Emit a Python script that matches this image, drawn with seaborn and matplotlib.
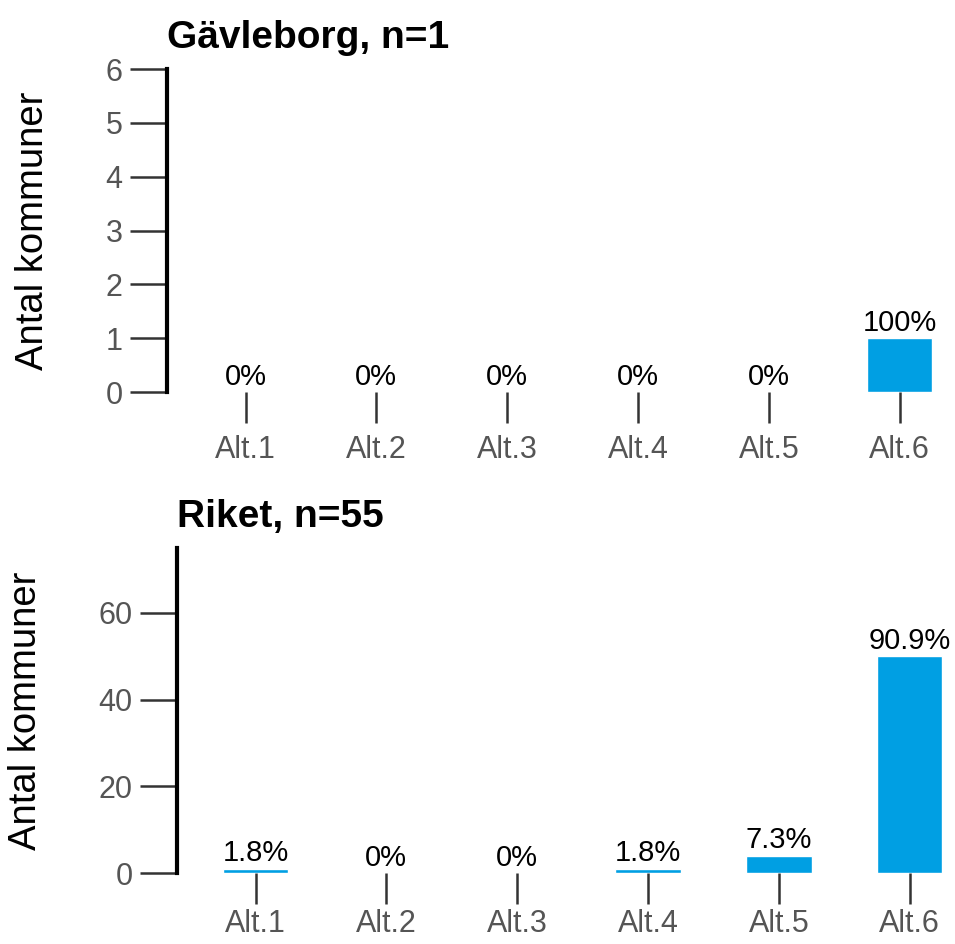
import matplotlib
matplotlib.use('Agg')
import matplotlib.pyplot as plt
import seaborn as sns

# data
categories = ['Alt.1', 'Alt.2', 'Alt.3', 'Alt.4', 'Alt.5', 'Alt.6']
gavle_counts = [0, 0, 0, 0, 0, 1]
riket_counts = [1, 0, 0, 1, 4, 50]
gavle_n = 1
riket_n = 55
gavle_yticks = [0, 1, 2, 3, 4, 5, 6]
riket_yticks = [0, 20, 40, 60]

sns.set_style('white')
plt.rcParams['font.family'] = ['Liberation Sans', 'DejaVu Sans']

bar_color = '#009FE3'
tick_grey = '#555555'

fig = plt.figure(figsize=(9.55, 9.44), dpi=100)
ax1 = fig.add_axes([167 / 955, 0.5847, 785 / 955, 0.3422])
ax2 = fig.add_axes([177 / 955, 0.0752, 785 / 955, 0.3443])


def draw(ax, counts, n, title, yticks, ylim, xpad):
    sns.barplot(x=categories, y=counts, color=bar_color, saturation=1,
                width=0.5, ax=ax)
    labels = [f"{round(c / n * 100, 1):g}%" for c in counts]
    ax.bar_label(ax.containers[0], labels=labels, padding=1, fontsize=21,
                 color='black')
    ax.set_xlim(-0.6, 5.4)
    ax.set_ylim(*ylim)
    ax.set_yticks(yticks)
    for s in ['top', 'right', 'bottom']:
        ax.spines[s].set_visible(False)
    ax.spines['left'].set_linewidth(3)
    ax.spines['left'].set_color('black')
    ax.tick_params(axis='y', length=27, width=1.8, color='#333333',
                   labelsize=22, labelcolor=tick_grey, pad=5, left=True)
    ax.tick_params(axis='x', length=22, width=1.8, color='#333333',
                   labelsize=22, labelcolor=tick_grey, pad=xpad, bottom=True)
    ax.set_ylabel('Antal kommuner', fontsize=27.5, labelpad=39, color='black')
    ax.set_xlabel('')
    ax.set_title(title, loc='left', fontsize=28, fontweight='bold', pad=15,
                 color='black')


draw(ax1, gavle_counts, gavle_n, f'Gävleborg, n={gavle_n}', gavle_yticks, (0, 6), 9)
draw(ax2, riket_counts, riket_n, f'Riket, n={riket_n}', riket_yticks, (0, 75), 4)

fig.savefig('out.png', dpi=100)
